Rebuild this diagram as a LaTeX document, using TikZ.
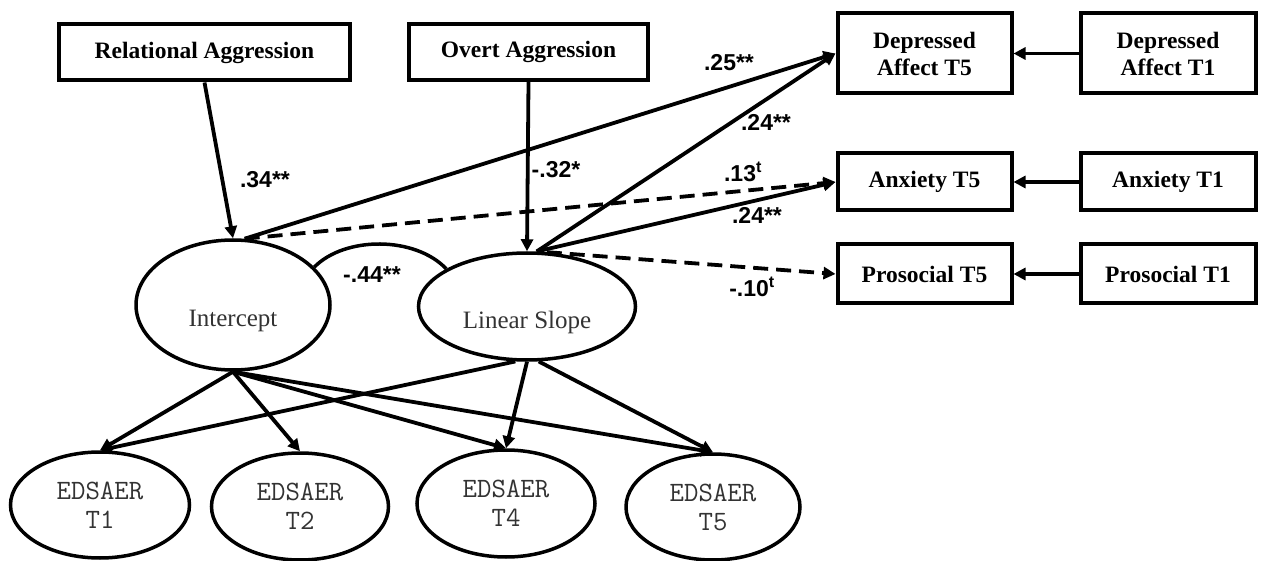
\documentclass[tikz,border=0pt]{standalone}
\usepackage{fontspec}
\setmainfont{Liberation Serif}
\newfontfamily\coeffont{Liberation Sans}
\usetikzlibrary{arrows.meta,shapes.geometric}

\begin{document}
\begin{tikzpicture}[x=1pt,y=-1pt,
  box/.style={draw,line width=4pt,rectangle,inner sep=0pt,align=center,
    font=\fontsize{23.5}{27}\selectfont\bfseries},
  latent/.style={draw,line width=3.5pt,ellipse,inner sep=0pt},
  lattext/.style={font=\fontsize{25}{25}\selectfont,text=black!80},
  ind/.style={draw,line width=3.5pt,ellipse,inner sep=0pt,align=center,
    font=\ttfamily\fontsize{28}{29}\selectfont,text=black!80},
  link/.style={line width=3.8pt,-{Triangle[length=12pt,width=12pt]}},
  dlink/.style={link,dash pattern=on 15pt off 8pt},
  coef/.style={font=\coeffont\bfseries\fontsize{23}{23}\selectfont,inner sep=0pt},
]
\useasboundingbox (0,0) rectangle (1264,561);

% predictors
\node[box,minimum width=291pt,minimum height=56pt] (rel) at (204.5,52.5) {Relational Aggression};
\node[box,minimum width=239pt,minimum height=56pt] (ov)  at (528.5,52) {Overt Aggression};

% outcomes at T5 and their T1 controls
\node[box,minimum width=174pt,minimum height=80pt] (da5)  at (924.5,53.5) {Depressed\\Affect T5};
\node[box,minimum width=175pt,minimum height=80pt] (da1)  at (1168,53.5) {Depressed\\Affect T1};
\node[box,minimum width=174pt,minimum height=57pt] (anx5) at (924.5,182) {Anxiety T5};
\node[box,minimum width=175pt,minimum height=57pt] (anx1) at (1168,182) {Anxiety T1};
\node[box,minimum width=174pt,minimum height=59pt] (pro5) at (924.5,274) {Prosocial T5};
\node[box,minimum width=175pt,minimum height=59pt] (pro1) at (1168,274) {Prosocial T1};

% growth factors
\node[latent,minimum width=194pt,minimum height=130pt,
  label={[lattext,yshift=-16pt]center:Intercept}] (icpt) at (233,305) {};
\node[latent,minimum width=217pt,minimum height=107pt,
  label={[lattext,yshift=-16pt]center:Linear Slope}] (ls) at (527,306.5) {};

% repeated measures
\node[ind,minimum width=179pt,minimum height=106pt] (e1) at (100,505) {EDSAER\\T1};
\node[ind,minimum width=177pt,minimum height=107pt] (e2) at (300,506.5) {EDSAER\\T2};
\node[ind,minimum width=178pt,minimum height=107pt] (e4) at (506,503.5) {EDSAER\\T4};
\node[ind,minimum width=174pt,minimum height=106pt] (e5) at (713,507) {EDSAER\\T5};

% predictors to growth factors
\draw[link] (rel.south) -- (icpt.north);
\draw[link] (ov.south) -- (ls.north);

% growth factors to outcomes
\draw[link]  (icpt.80) -- (da5.west);
\draw[dlink] (icpt.80) -- (anx5.west);
\draw[link]  (ls.80) -- (da5.west);
\draw[link]  (ls.80) -- (anx5.west);
\draw[dlink] (ls.70) -- (pro5.west);

% T1 controls
\draw[link] (da1.west) -- (da5.east);
\draw[link] (anx1.west) -- (anx5.east);
\draw[link] (pro1.west) -- (pro5.east);

% factor covariance
\draw[line width=3.5pt] (icpt.25) .. controls (345,236) and (415,236) .. (ls.155);

% loadings
\draw[link] (icpt.south) -- (e1.north);
\draw[link] (icpt.south) -- (e2.north);
\draw[link] (icpt.south) -- (e4.north);
\draw[link] (icpt.south) -- (e5.north);
\draw[link] (ls.258) -- (e1.north);
\draw[link] (ls.270) -- (e4.north);
\draw[link] (ls.282) -- (e5.north);

% coefficients
\node[coef] (c34)  at (265,180) {.34**};
\node[coef] (c32)  at (556,170) {-.32*};
\node[coef] (c25)  at (729,63)  {.25**};
\node[coef] (c24a) at (766,122) {.24**};
\node[coef] (c13)  at (743,172) {.13\textsuperscript{t}};
\node[coef] (c24b) at (757,215) {.24**};
\node[coef] (c10)  at (752,287) {-.10\textsuperscript{t}};
\node[coef] (c44)  at (372,275) {-.44**};
\end{tikzpicture}
\end{document}
